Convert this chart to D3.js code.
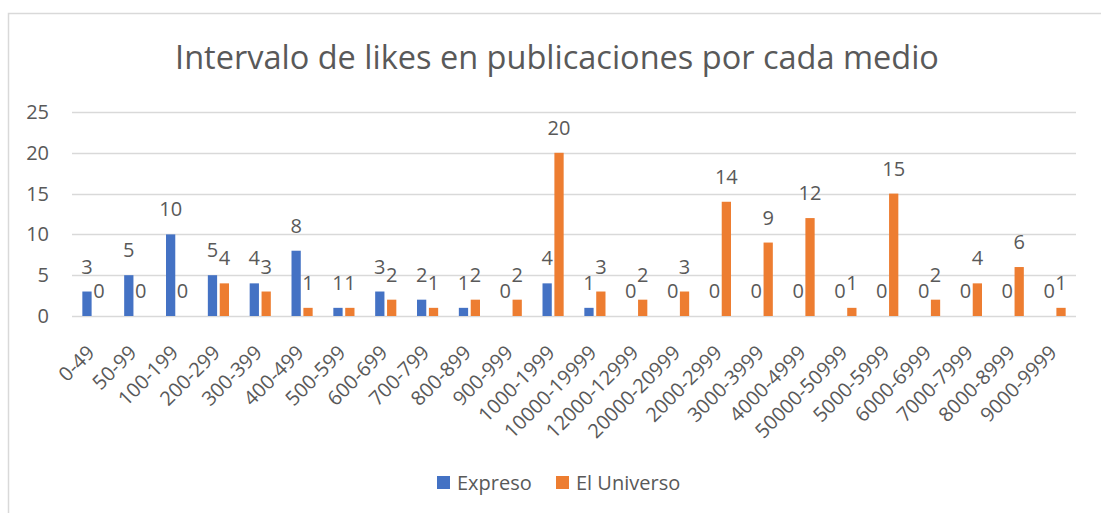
<!DOCTYPE html>
<html lang="es">
<head>
<meta charset="utf-8">
<script src="https://d3js.org/d3.v7.min.js"></script>
<style>
  body { margin: 0; background: #fff; }
  text { font-family: "Open Sans", sans-serif; fill: #595959; }
</style>
</head>
<body>
<script>
// data
var categories = ["0-49", "50-99", "100-199", "200-299", "300-399", "400-499", "500-599",
  "600-699", "700-799", "800-899", "900-999", "1000-1999", "10000-19999", "12000-12999",
  "20000-20999", "2000-2999", "3000-3999", "4000-4999", "50000-50999", "5000-5999",
  "6000-6999", "7000-7999", "8000-8999", "9000-9999"];
var expreso = [3, 5, 10, 5, 4, 8, 1, 3, 2, 1, 0, 4, 1, 0, 0, 0, 0, 0, 0, 0, 0, 0, 0, 0];
var universo = [0, 0, 0, 4, 3, 1, 1, 2, 1, 2, 2, 20, 3, 2, 3, 14, 9, 12, 1, 15, 2, 4, 6, 1];
var yTicks = [0, 5, 10, 15, 20, 25];
var seriesNames = ["Expreso", "El Universo"];
var colors = ["#4472C4", "#ED7D31"];

var width = 1101, height = 513;
var plotLeft = 72, plotRight = 1076, plotTop = 112, plotBottom = 316;

var svg = d3.select("body").append("svg")
  .attr("width", width)
  .attr("height", height);

// chart border
svg.append("rect")
  .attr("x", 8.5).attr("y", 13.5)
  .attr("width", 1200).attr("height", 600)
  .attr("fill", "none")
  .attr("stroke", "#d9d9d9")
  .attr("stroke-width", 1.5);

svg.append("text")
  .attr("x", 557).attr("y", 69)
  .attr("text-anchor", "middle")
  .style("font-size", "32.5px")
  .text("Intervalo de likes en publicaciones por cada medio");

var x = d3.scaleBand().domain(categories).range([plotLeft, plotRight]);
var x1 = d3.scaleBand().domain(seriesNames).range([0, x.bandwidth()]).paddingInner(0.22).paddingOuter(0.87);
var y = d3.scaleLinear().domain([0, 25]).range([plotBottom, plotTop]);

// gridlines
svg.append("g").selectAll("line")
  .data(yTicks)
  .join("line")
  .attr("x1", plotLeft).attr("x2", plotRight)
  .attr("y1", d => Math.round(y(d)) + 0.5)
  .attr("y2", d => Math.round(y(d)) + 0.5)
  .attr("stroke", "#d9d9d9")
  .attr("stroke-width", 1.5);

// y axis labels
var yAxis = svg.append("g")
  .attr("transform", "translate(" + (plotLeft - 23) + ",0)")
  .call(d3.axisLeft(y).tickValues(yTicks).tickSize(0).tickPadding(0));
yAxis.select(".domain").remove();
yAxis.selectAll("text").style("font-size", "20px").attr("fill", "#595959").attr("font-family", null);

// bars
var seriesData = [expreso, universo];
seriesData.forEach(function(vals, s) {
  var g = svg.append("g");
  g.selectAll("rect")
    .data(vals)
    .join("rect")
    .attr("x", (d, i) => x(categories[i]) + x1(seriesNames[s]))
    .attr("y", d => y(d))
    .attr("width", x1.bandwidth())
    .attr("height", d => plotBottom - y(d))
    .attr("fill", colors[s]);
  g.selectAll("text")
    .data(vals)
    .join("text")
    .attr("x", (d, i) => x(categories[i]) + x1(seriesNames[s]) + x1.bandwidth() / 2)
    .attr("y", d => y(d) - 18)
    .attr("text-anchor", "middle")
    .style("font-size", "20px")
    .text(d => d);
});

// x axis labels
svg.append("g").selectAll("text")
  .data(categories)
  .join("text")
  .attr("transform", d => "translate(" + (x(d) + x.bandwidth() / 2 + 3) + "," + (plotBottom + 38) + ") rotate(-45)")
  .attr("text-anchor", "end")
  .style("font-size", "20px")
  .text(d => d);

// legend
var legend = svg.append("g").selectAll("g")
  .data(seriesNames)
  .join("g")
  .attr("transform", (d, i) => "translate(" + [437, 556][i] + ",476)");
legend.append("rect")
  .attr("width", 13).attr("height", 13)
  .attr("fill", (d, i) => colors[i]);
legend.append("text")
  .attr("x", 20).attr("y", 7)
  .attr("dy", "0.35em")
  .style("font-size", "20px")
  .text(d => d);
</script>
</body>
</html>
